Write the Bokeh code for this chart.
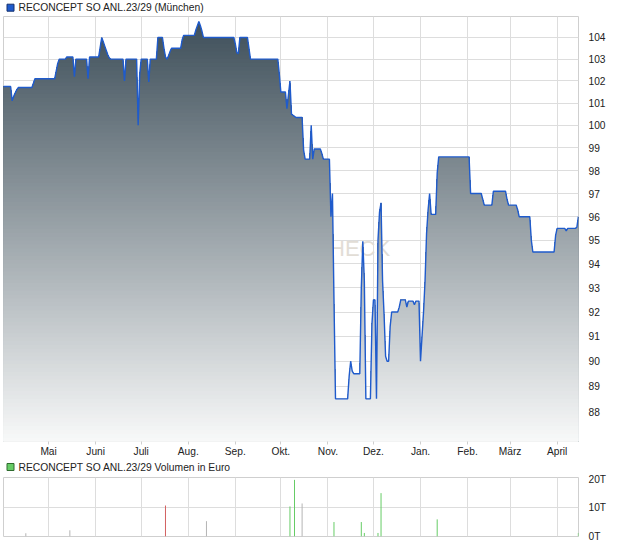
from datetime import datetime

import numpy as np
import pandas as pd
from bokeh.core.properties import value
from bokeh.embed import file_html
from bokeh.layouts import column
from bokeh.models import (ColumnDataSource, CustomJSTickFormatter, FixedTicker, Label,
                          MonthsTicker, PrintfTickFormatter, Range1d)
from bokeh.plotting import figure
from bokeh.resources import INLINE
from bokeh.transform import factor_cmap

# Daily closing prices (Munich), listed at each change of price
price_dates = [
    "2024-04-01", "2024-04-06", "2024-04-07", "2024-04-08", "2024-04-09", "2024-04-10",
    "2024-04-11", "2024-04-20", "2024-04-21", "2024-04-22", "2024-05-05", "2024-05-06",
    "2024-05-07", "2024-05-08", "2024-05-12", "2024-05-13", "2024-05-17", "2024-05-18",
    "2024-05-19", "2024-05-26", "2024-05-27", "2024-05-28", "2024-06-03", "2024-06-04",
    "2024-06-05", "2024-06-06", "2024-06-07", "2024-06-08", "2024-06-09", "2024-06-10",
    "2024-06-11", "2024-06-19", "2024-06-20", "2024-06-21", "2024-06-28", "2024-06-29",
    "2024-06-30", "2024-07-01", "2024-07-05", "2024-07-06", "2024-07-07", "2024-07-11",
    "2024-07-12", "2024-07-15", "2024-07-16", "2024-07-17", "2024-07-18", "2024-07-19",
    "2024-07-20", "2024-07-21", "2024-07-27", "2024-07-28", "2024-07-29", "2024-08-05",
    "2024-08-06", "2024-08-07", "2024-08-08", "2024-08-09", "2024-08-10", "2024-08-11",
    "2024-08-31", "2024-09-01", "2024-09-02", "2024-09-03", "2024-09-04", "2024-09-09",
    "2024-09-10", "2024-09-11", "2024-09-29", "2024-09-30", "2024-10-01", "2024-10-04",
    "2024-10-05", "2024-10-07", "2024-10-08", "2024-10-09", "2024-10-10", "2024-10-11",
    "2024-10-15", "2024-10-16", "2024-10-17", "2024-10-20", "2024-10-21", "2024-10-22",
    "2024-10-23", "2024-10-27", "2024-10-28", "2024-10-29", "2024-11-02", "2024-11-03",
    "2024-11-04", "2024-11-05", "2024-11-06", "2024-11-14", "2024-11-15", "2024-11-16",
    "2024-11-17", "2024-11-18", "2024-11-22", "2024-11-23", "2024-11-24", "2024-11-25",
    "2024-11-26", "2024-11-29", "2024-11-30", "2024-12-01", "2024-12-02", "2024-12-03",
    "2024-12-04", "2024-12-05", "2024-12-06", "2024-12-07", "2024-12-08", "2024-12-09",
    "2024-12-10", "2024-12-11", "2024-12-12", "2024-12-13", "2024-12-17", "2024-12-18",
    "2024-12-19", "2024-12-22", "2024-12-23", "2024-12-24", "2024-12-27", "2024-12-28",
    "2024-12-29", "2024-12-31", "2025-01-01", "2025-01-02", "2025-01-03", "2025-01-04",
    "2025-01-05", "2025-01-06", "2025-01-07", "2025-01-08", "2025-01-11", "2025-01-12",
    "2025-01-13", "2025-02-02", "2025-02-03", "2025-02-10", "2025-02-11", "2025-02-12",
    "2025-02-17", "2025-02-18", "2025-02-26", "2025-02-27", "2025-02-28", "2025-03-05",
    "2025-03-06", "2025-03-07", "2025-03-14", "2025-03-15", "2025-03-16", "2025-03-30",
    "2025-03-31", "2025-04-01", "2025-04-06", "2025-04-07", "2025-04-08", "2025-04-13",
    "2025-04-14", "2025-04-15",
]
price_close = [
    101.75, 101.75, 101.1, 101.3, 101.45, 101.6,
    101.7, 101.7, 101.9, 102.1, 102.1, 102.45,
    102.8, 103.0, 103.0, 103.1, 103.1, 102.2,
    103.0, 103.0, 102.1, 103.1, 103.1, 103.55,
    104.0, 103.8, 103.6, 103.4, 103.2, 103.05,
    103.0, 103.0, 102.0, 103.0, 103.0, 100.0,
    102.3, 103.0, 103.0, 101.95, 103.0, 103.0,
    104.0, 104.0, 103.5, 103.1, 103.0, 103.15,
    103.35, 103.5, 103.5, 103.9, 104.1, 104.1,
    104.35, 104.55, 104.75, 104.55, 104.3, 104.0,
    104.0, 103.7, 103.3, 103.25, 104.0, 104.0,
    103.5, 103.0, 103.0, 102.3, 101.5, 101.5,
    100.75, 102.0, 100.5, 100.45, 100.4, 100.35,
    100.35, 98.9, 98.5, 98.5, 100.0, 98.5,
    98.95, 98.95, 98.75, 98.5, 98.5, 96.0,
    97.0, 92.5, 88.5, 88.5, 89.4, 90.0,
    89.6, 89.5, 89.5, 93.0, 94.95, 93.3,
    88.5, 88.5, 91.5, 92.5, 92.5, 88.5,
    95.0, 96.2, 96.6, 93.3, 91.9, 90.2,
    90.0, 90.0, 91.4, 92.0, 92.0, 92.2,
    92.5, 92.5, 92.2, 92.45, 92.45, 92.3,
    92.45, 92.45, 90.0, 91.0, 92.0, 93.3,
    95.3, 96.3, 97.0, 96.1, 96.1, 97.9,
    98.6, 98.6, 97.0, 97.0, 96.75, 96.5,
    96.5, 97.1, 97.1, 96.75, 96.5, 96.5,
    96.3, 96.0, 96.0, 95.0, 94.5, 94.5,
    95.2, 95.5, 95.5, 95.4, 95.5, 95.5,
    95.55, 96.0,
]

# Daily turnover in euro and the price move on that day
volume_dates = [
    "2024-04-16", "2024-05-15", "2024-07-17", "2024-08-13", "2024-10-07", "2024-10-10",
    "2024-10-15", "2024-11-05", "2024-11-23", "2024-11-25", "2024-12-04", "2024-12-06",
    "2025-01-12", "2025-04-15",
]
volume_euro = [1100, 2100, 10500, 5200, 10200, 19200, 11200, 4900, 4900, 1200, 1200, 14700, 5800, 1200]
volume_move = ["flat", "flat", "down", "flat", "up", "up", "flat", "up", "up", "up", "up", "up", "up", "up"]

month_labels = ["Jan.", "Feb.", "März", "April", "Mai", "Juni", "Juli", "Aug.", "Sep.", "Okt.", "Nov.", "Dez."]
price_ticks = [88, 89, 90, 91, 92, 93, 94, 95, 96, 97, 98, 99, 100, 101, 102, 103, 104]
volume_ticks = [0, 10000, 20000]

price_title = "RECONCEPT SO ANL.23/29 (München)"
volume_title = "RECONCEPT SO ANL.23/29 Volumen in Euro"

FONT = "Liberation Sans"
GRID = "#dddddd"
FRAME = "#cfcfcf"
TEXT = "#222222"
WIDTH = 620

x_range = Range1d(datetime(2024, 4, 1, 7), datetime(2025, 4, 15, 2))
y_lo, y_hi = 86.83, 104.98

dates = pd.to_datetime(price_dates)
close = np.array(price_close, dtype=float)


def header(label, fill, line, height, mid):
    """A thin strip holding a colour swatch and the series caption."""
    h = figure(frame_width=WIDTH, frame_height=height, x_range=Range1d(0, WIDTH),
               y_range=Range1d(height, 0), toolbar_location=None, output_backend="svg",
               min_border=0, x_axis_location=None, y_axis_location=None)
    h.outline_line_color = None
    h.grid.visible = False
    h.quad(left=3.5, right=10.5, top=mid - 3.5, bottom=mid + 3.5,
           fill_color=fill, line_color=line, line_width=1)
    h.text(x=15, y=mid, text=[label], text_font=value(FONT), text_font_size=value("10.3px"),
           text_color=TEXT, text_baseline="middle", text_align="left")
    return h


def style_common(p):
    p.outline_line_color = FRAME
    p.background_fill_color = "white"
    p.border_fill_color = "white"
    p.xgrid.ticker = MonthsTicker(months=list(range(12)))
    p.xgrid.grid_line_color = GRID
    p.ygrid.grid_line_color = GRID
    for ax in p.yaxis:
        ax.axis_line_color = None
        ax.major_tick_line_color = None
        ax.minor_tick_line_color = None
        ax.major_label_standoff = 4
        ax.major_label_text_font = FONT
        ax.major_label_text_font_size = "10.2px"
        ax.major_label_text_color = TEXT


# ---- price chart -------------------------------------------------------
p = figure(frame_width=575, frame_height=425, x_range=x_range,
           y_range=Range1d(y_lo, y_hi), x_axis_type="datetime", y_axis_type="log",
           y_axis_location="right", toolbar_location=None, output_backend="svg",
           min_border_left=3, min_border_right=42, min_border_top=0, min_border_bottom=19)
style_common(p)
p.ygrid.ticker = FixedTicker(ticks=price_ticks)
p.yaxis.ticker = FixedTicker(ticks=price_ticks, minor_ticks=[])
p.yaxis.formatter = PrintfTickFormatter(format="%d")

p.xaxis.ticker = MonthsTicker(months=list(range(12)))
p.xaxis.formatter = CustomJSTickFormatter(args=dict(names=month_labels),
                                          code="return names[new Date(tick).getUTCMonth()]")
p.xaxis.axis_line_color = None
p.xaxis.major_tick_in = 0
p.xaxis.major_tick_out = 3
p.xaxis.major_tick_line_color = FRAME
p.xaxis.minor_tick_line_color = None
p.xaxis.major_label_standoff = 1
p.xaxis.major_label_text_font = FONT
p.xaxis.major_label_text_font_size = "10.2px"
p.xaxis.major_label_text_color = TEXT

# faint site mark behind the area
mark = Label(x=datetime(2024, 12, 12), y=94.65, text="CHECK", text_align="right",
             text_baseline="alphabetic", text_font=FONT, text_font_size="22px",
             text_color="#e2ddd6", level="underlay")
p.add_layout(mark)

# vertical gradient under the price line, built from stacked bands
n_bands = 110
top_rgb = np.array([0x3c, 0x4d, 0x58], dtype=float)
bot_rgb = np.array([0xf8, 0xf9, 0xf9], dtype=float)
for k in range(n_bands, 0, -1):
    upper = y_lo * (y_hi / y_lo) ** (k / n_bands)
    frac = (n_bands - k + 0.5) / n_bands
    r, g, b = (top_rgb + (bot_rgb - top_rgb) * frac).round().astype(int)
    p.varea(x=dates, y1=y_lo, y2=np.minimum(close, upper),
            fill_color=f"#{r:02x}{g:02x}{b:02x}", fill_alpha=1.0)

p.line(dates, close, line_color="#1f5bcc", line_width=1.4)

# ---- volume chart ------------------------------------------------------
vsrc = ColumnDataSource(dict(date=pd.to_datetime(volume_dates), euro=volume_euro, move=volume_move))
v = figure(frame_width=575, frame_height=59, x_range=x_range, y_range=Range1d(0, 20000),
           x_axis_type="datetime", x_axis_location=None, y_axis_location="right",
           toolbar_location=None, output_backend="svg",
           min_border_left=3, min_border_right=42, min_border_top=4, min_border_bottom=10)
style_common(v)
v.ygrid.ticker = FixedTicker(ticks=volume_ticks)
v.yaxis.ticker = FixedTicker(ticks=volume_ticks, minor_ticks=[])
v.yaxis.formatter = CustomJSTickFormatter(code="return (tick / 1000).toFixed(0) + 'T'")
v.segment(x0="date", y0=0, x1="date", y1="euro", source=vsrc, line_width=1,
          line_color=factor_cmap("move", palette=["#66cc66", "#d26060", "#b4b4b4"],
                                 factors=["up", "down", "flat"]))

layout = column(header(price_title, "#1f5bcc", "#14306e", 16, 7.2),
                p,
                header(volume_title, "#66cc66", "#2e6b2e", 13, 6.5),
                v, spacing=0)
open("out.html", "w").write(file_html(layout, INLINE))
